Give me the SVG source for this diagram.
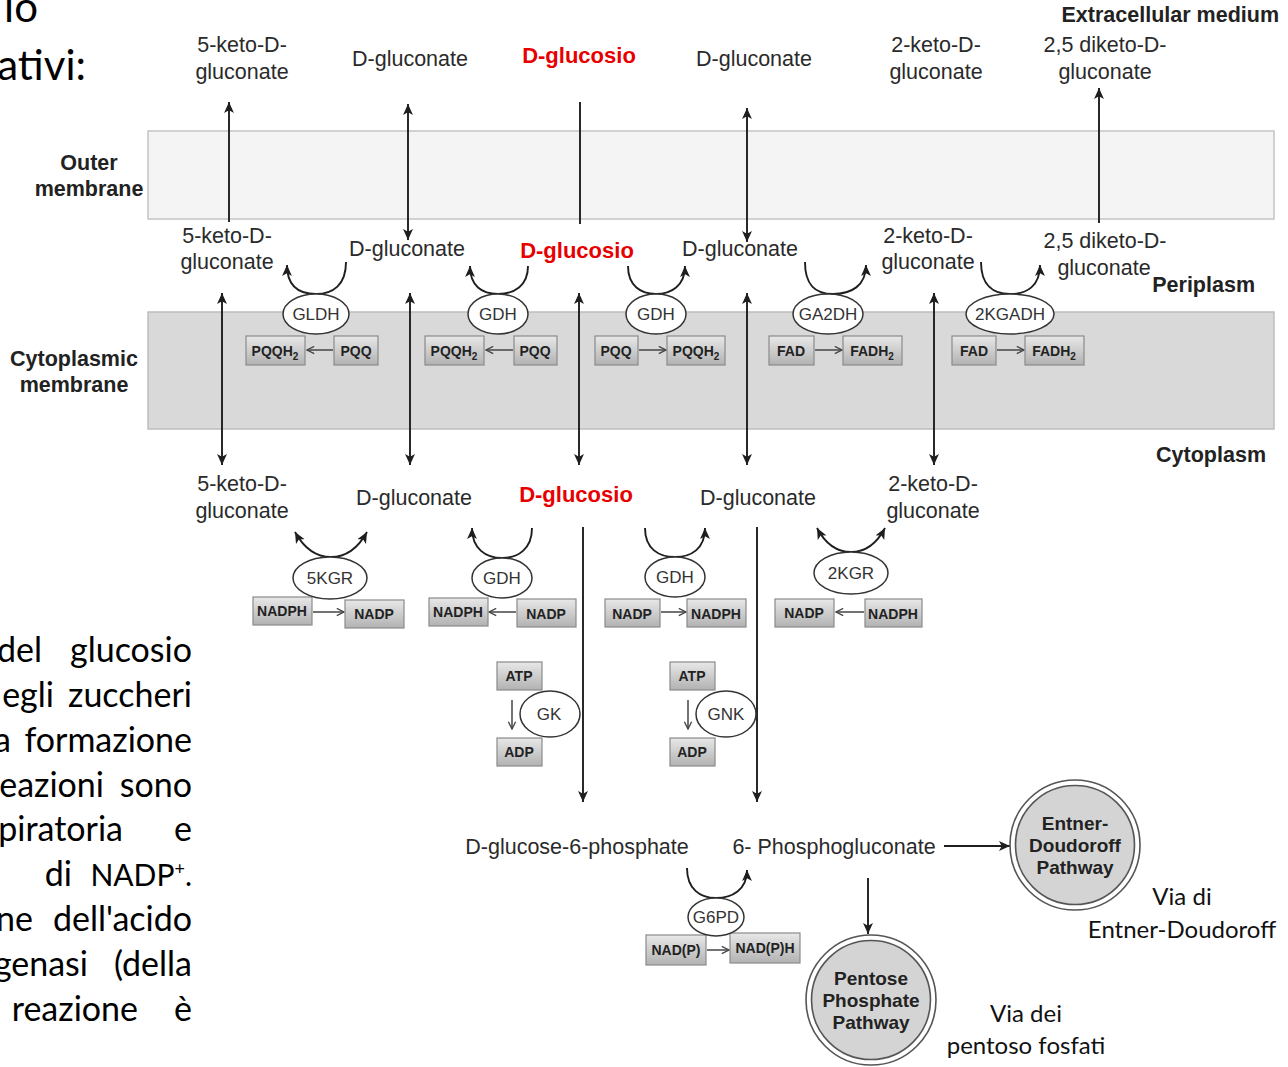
<svg xmlns="http://www.w3.org/2000/svg" width="1288" height="1067" viewBox="0 0 1288 1067">
<defs>
<style>
.lbl{font-family:"Liberation Sans",Arial,sans-serif;font-size:21.5px;fill:#2a2a2a;text-anchor:middle}
.red{font-family:"Liberation Sans",Arial,sans-serif;font-size:22px;font-weight:bold;fill:#e80000;text-anchor:middle}
.zone{font-family:"Liberation Sans",Arial,sans-serif;font-size:21.5px;font-weight:bold;fill:#222}
.enz{font-family:"Liberation Sans",Arial,sans-serif;font-size:17px;fill:#333;text-anchor:middle}
.box{fill:url(#gb);stroke:#8a8a8a;stroke-width:1.2}
.bt{font-family:"Liberation Sans",Arial,sans-serif;font-size:14px;font-weight:bold;fill:#222;text-anchor:middle}
.ell{fill:#fff;stroke:#333;stroke-width:1.5}
.ln{fill:none;stroke:#1e1e1e;stroke-width:1.9}
.sm{fill:none;stroke:#444;stroke-width:1.5}
.pw{font-family:"Liberation Sans",Arial,sans-serif;font-size:19px;font-weight:bold;fill:#222;text-anchor:middle}
.sl{font-family:Lato,"Open Sans",sans-serif;font-size:34px;fill:#000}
.nadp{font-family:Lato,"Open Sans",sans-serif;font-size:30px;fill:#000;text-anchor:end}
.big{font-family:Lato,"Open Sans",sans-serif;font-size:42px;fill:#000;text-anchor:end}
.vn{font-family:Lato,"Open Sans",sans-serif;font-size:24px;fill:#111;text-anchor:middle}
</style>
<linearGradient id="gb" x1="0" y1="0" x2="0" y2="1">
<stop offset="0" stop-color="#e8e8e8"/>
<stop offset="1" stop-color="#b2b2b2"/>
</linearGradient>
<marker id="ah" viewBox="0 0 10 10" refX="10" refY="5" markerWidth="11" markerHeight="11" markerUnits="userSpaceOnUse" orient="auto-start-reverse">
<path d="M0,0.5 L10,5 L0,9.5 L2.5,5 Z" fill="#1e1e1e"/>
</marker>
<marker id="ch" viewBox="0 0 10 10" refX="9" refY="5" markerWidth="9" markerHeight="9" markerUnits="userSpaceOnUse" orient="auto">
<path d="M1,1 L9,5 L1,9" fill="none" stroke="#444" stroke-width="1.5"/>
</marker>
</defs>
<rect width="1288" height="1067" fill="#fff"/>

<!-- slide text -->
<g id="slide-text">
<text class="big" x="38" y="22">io</text>
<text class="big" x="86" y="80">ativi:</text>
<text class="sl" x="42" y="662" text-anchor="end">del</text><text class="sl" x="192" y="662" text-anchor="end">glucosio</text>
<text class="sl" x="54" y="707" text-anchor="end">egli</text><text class="sl" x="192" y="707" text-anchor="end">zuccheri</text>
<text class="sl" x="11" y="752" text-anchor="end">a</text><text class="sl" x="192" y="752" text-anchor="end">formazione</text>
<text class="sl" x="104" y="797" text-anchor="end">eazioni</text><text class="sl" x="192" y="797" text-anchor="end">sono</text>
<text class="sl" x="123" y="841" text-anchor="end">piratoria</text><text class="sl" x="192" y="841" text-anchor="end">e</text>
<text class="sl" x="72" y="886" text-anchor="end">di</text>
<text class="nadp" x="192" y="886">NADP<tspan font-size="18" baseline-shift="super">+</tspan>.</text>
<text class="sl" x="33" y="931" text-anchor="end">ne</text><text class="sl" x="192" y="931" text-anchor="end">dell'acido</text>
<text class="sl" x="88" y="976" text-anchor="end">genasi</text><text class="sl" x="192" y="976" text-anchor="end">(della</text>
<text class="sl" x="138" y="1021" text-anchor="end">reazione</text><text class="sl" x="192" y="1021" text-anchor="end">è</text>
<text class="vn" x="1182" y="905">Via di</text>
<text class="vn" x="1182" y="938">Entner-Doudoroff</text>
<text class="vn" x="1026" y="1022">Via dei</text>
<text class="vn" x="1026" y="1054">pentoso fosfati</text>
</g>

<!-- membranes -->
<g id="membranes">
<rect x="148" y="131" width="1126" height="88" fill="#f4f4f4" stroke="#c4c4c4" stroke-width="1.5"/>
<rect x="148" y="312" width="1126" height="117" fill="#d9d9d9" stroke="#bdbdbd" stroke-width="1.5"/>
<text class="zone" x="1279" y="22" text-anchor="end">Extracellular medium</text>
<text class="zone" x="89" y="170" text-anchor="middle">Outer</text>
<text class="zone" x="89" y="196" text-anchor="middle">membrane</text>
<text class="zone" x="1255" y="292" text-anchor="end">Periplasm</text>
<text class="zone" x="74" y="366" text-anchor="middle">Cytoplasmic</text>
<text class="zone" x="74" y="392" text-anchor="middle">membrane</text>
<text class="zone" x="1266" y="462" text-anchor="end">Cytoplasm</text>
</g>

<!-- connectors -->
<g id="connectors">
<!-- outer membrane -->
<line class="ln" x1="229" y1="222" x2="229" y2="102" marker-end="url(#ah)"/>
<line class="ln" x1="408" y1="104" x2="408" y2="240" marker-start="url(#ah)" marker-end="url(#ah)"/>
<line class="ln" x1="580" y1="102" x2="580" y2="224"/>
<line class="ln" x1="747" y1="108" x2="747" y2="242" marker-start="url(#ah)" marker-end="url(#ah)"/>
<line class="ln" x1="1099" y1="223" x2="1099" y2="88" marker-end="url(#ah)"/>
<!-- cytoplasmic membrane -->
<line class="ln" x1="222" y1="293" x2="222" y2="465" marker-start="url(#ah)" marker-end="url(#ah)"/>
<line class="ln" x1="410" y1="293" x2="410" y2="465" marker-start="url(#ah)" marker-end="url(#ah)"/>
<line class="ln" x1="579" y1="293" x2="579" y2="465" marker-start="url(#ah)" marker-end="url(#ah)"/>
<line class="ln" x1="747" y1="293" x2="747" y2="465" marker-start="url(#ah)" marker-end="url(#ah)"/>
<line class="ln" x1="934" y1="293" x2="934" y2="465" marker-start="url(#ah)" marker-end="url(#ah)"/>
<!-- periplasm enzyme curves -->
<path class="ln" d="M346,262 C346,285 333,294 316,294 C299,294 287,286 287,265" marker-end="url(#ah)"/>
<path class="ln" d="M528,266 C528,286 514,294 498,294 C482,294 470,286 470,266" marker-end="url(#ah)"/>
<path class="ln" d="M628,266 C628,286 641,294 656,294 C671,294 685,286 685,266" marker-end="url(#ah)"/>
<path class="ln" d="M805,262 C805,285 815,294 833,294 C851,294 866,286 866,265" marker-end="url(#ah)"/>
<path class="ln" d="M981,262 C981,285 993,294 1010,294 C1027,294 1040,286 1040,265" marker-end="url(#ah)"/>
<!-- cytoplasm enzyme curves -->
<path class="ln" d="M295,532 C305,550 318,557 331,557 C344,557 357,550 367,532" marker-start="url(#ah)" marker-end="url(#ah)"/>
<path class="ln" d="M532,528 C532,549 518,558 502,558 C486,558 472,549 472,528" marker-end="url(#ah)"/>
<path class="ln" d="M645,528 C645,549 659,557 675,557 C691,557 705,549 705,528" marker-end="url(#ah)"/>
<path class="ln" d="M817,528 C826,545 838,552 851,552 C864,552 876,545 885,528" marker-start="url(#ah)" marker-end="url(#ah)"/>
<!-- long cytoplasm arrows -->
<line class="ln" x1="583" y1="527" x2="583" y2="802" marker-end="url(#ah)"/>
<line class="ln" x1="757" y1="527" x2="757" y2="802" marker-end="url(#ah)"/>
<!-- GK / GNK cofactor arrows -->
<line class="sm" x1="512" y1="700" x2="512" y2="729" marker-end="url(#ch)"/>
<line class="sm" x1="688" y1="700" x2="688" y2="729" marker-end="url(#ch)"/>
<!-- bottom -->
<line class="ln" x1="944" y1="846" x2="1010" y2="846" marker-end="url(#ah)"/>
<line class="ln" x1="868" y1="878" x2="868" y2="934" marker-end="url(#ah)"/>
<path class="ln" d="M687,868 C687,889 700,898 716,898 C732,898 747,890 747,870" marker-end="url(#ah)"/>
<!-- box arrows -->
<line class="sm" x1="333" y1="350" x2="307" y2="350" marker-end="url(#ch)"/>
<line class="sm" x1="513" y1="350" x2="486" y2="350" marker-end="url(#ch)"/>
<line class="sm" x1="639" y1="350" x2="666" y2="350" marker-end="url(#ch)"/>
<line class="sm" x1="815" y1="350" x2="842" y2="350" marker-end="url(#ch)"/>
<line class="sm" x1="997" y1="350" x2="1024" y2="350" marker-end="url(#ch)"/>
<line class="sm" x1="313" y1="612" x2="344" y2="612" marker-end="url(#ch)"/>
<line class="sm" x1="516" y1="612" x2="489" y2="612" marker-end="url(#ch)"/>
<line class="sm" x1="661" y1="612" x2="686" y2="612" marker-end="url(#ch)"/>
<line class="sm" x1="864" y1="612" x2="836" y2="612" marker-end="url(#ch)"/>
<line class="sm" x1="707" y1="950" x2="729" y2="950" marker-end="url(#ch)"/>
</g>

<!-- metabolite labels -->
<g id="extracellular-labels">
<text class="lbl" x="242" y="52">5-keto-D-</text>
<text class="lbl" x="242" y="79">gluconate</text>
<text class="lbl" x="410" y="66">D-gluconate</text>
<text class="red" x="579" y="63">D-glucosio</text>
<text class="lbl" x="754" y="66">D-gluconate</text>
<text class="lbl" x="936" y="52">2-keto-D-</text>
<text class="lbl" x="936" y="79">gluconate</text>
<text class="lbl" x="1105" y="52">2,5 diketo-D-</text>
<text class="lbl" x="1105" y="79">gluconate</text>
</g>
<g id="periplasm-labels">
<text class="lbl" x="227" y="243">5-keto-D-</text>
<text class="lbl" x="227" y="269">gluconate</text>
<text class="lbl" x="407" y="256">D-gluconate</text>
<text class="red" x="577" y="258">D-glucosio</text>
<text class="lbl" x="740" y="256">D-gluconate</text>
<text class="lbl" x="928" y="243">2-keto-D-</text>
<text class="lbl" x="928" y="269">gluconate</text>
<text class="lbl" x="1105" y="248">2,5 diketo-D-</text>
<text class="lbl" x="1104" y="275">gluconate</text>
</g>
<g id="cytoplasm-labels">
<text class="lbl" x="242" y="491">5-keto-D-</text>
<text class="lbl" x="242" y="518">gluconate</text>
<text class="lbl" x="414" y="505">D-gluconate</text>
<text class="red" x="576" y="502">D-glucosio</text>
<text class="lbl" x="758" y="505">D-gluconate</text>
<text class="lbl" x="933" y="491">2-keto-D-</text>
<text class="lbl" x="933" y="518">gluconate</text>
<text class="lbl" x="577" y="854">D-glucose-6-phosphate</text>
<text class="lbl" x="834" y="854">6- Phosphogluconate</text>
</g>

<!-- periplasmic enzymes -->
<g id="GLDH">
<rect class="box" x="246" y="336" width="59" height="29"/><text class="bt" x="275" y="356">PQQH<tspan font-size="10" dy="4">2</tspan></text>
<rect class="box" x="334" y="336" width="44" height="29"/><text class="bt" x="356" y="356">PQQ</text>
<ellipse class="ell" cx="316" cy="314" rx="33" ry="20"/><text class="enz" x="316" y="320">GLDH</text>
</g>
<g id="GDH-1">
<rect class="box" x="425" y="336" width="59" height="29"/><text class="bt" x="454" y="356">PQQH<tspan font-size="10" dy="4">2</tspan></text>
<rect class="box" x="514" y="336" width="43" height="29"/><text class="bt" x="535" y="356">PQQ</text>
<ellipse class="ell" cx="498" cy="314" rx="30" ry="20"/><text class="enz" x="498" y="320">GDH</text>
</g>
<g id="GDH-2">
<rect class="box" x="595" y="336" width="43" height="29"/><text class="bt" x="616" y="356">PQQ</text>
<rect class="box" x="667" y="336" width="58" height="29"/><text class="bt" x="696" y="356">PQQH<tspan font-size="10" dy="4">2</tspan></text>
<ellipse class="ell" cx="656" cy="314" rx="30" ry="20"/><text class="enz" x="656" y="320">GDH</text>
</g>
<g id="GA2DH">
<rect class="box" x="769" y="336" width="45" height="29"/><text class="bt" x="791" y="356">FAD</text>
<rect class="box" x="843" y="336" width="59" height="29"/><text class="bt" x="872" y="356">FADH<tspan font-size="10" dy="4">2</tspan></text>
<ellipse class="ell" cx="828" cy="314" rx="35" ry="20"/><text class="enz" x="828" y="320">GA2DH</text>
</g>
<g id="2KGADH">
<rect class="box" x="952" y="336" width="44" height="29"/><text class="bt" x="974" y="356">FAD</text>
<rect class="box" x="1025" y="336" width="59" height="29"/><text class="bt" x="1054" y="356">FADH<tspan font-size="10" dy="4">2</tspan></text>
<ellipse class="ell" cx="1010" cy="314" rx="44" ry="20"/><text class="enz" x="1010" y="320">2KGADH</text>
</g>

<!-- cytoplasmic enzymes -->
<g id="5KGR">
<rect class="box" x="253" y="597" width="59" height="28"/><text class="bt" x="282" y="616">NADPH</text>
<rect class="box" x="345" y="600" width="59" height="28"/><text class="bt" x="374" y="619">NADP</text>
<ellipse class="ell" cx="330" cy="578" rx="37" ry="21"/><text class="enz" x="330" y="584">5KGR</text>
</g>
<g id="GDH-3">
<rect class="box" x="429" y="598" width="59" height="28"/><text class="bt" x="458" y="617">NADPH</text>
<rect class="box" x="517" y="599" width="59" height="28"/><text class="bt" x="546" y="619">NADP</text>
<ellipse class="ell" cx="502" cy="578" rx="30" ry="20"/><text class="enz" x="502" y="584">GDH</text>
</g>
<g id="GDH-4">
<rect class="box" x="605" y="599" width="55" height="28"/><text class="bt" x="632" y="619">NADP</text>
<rect class="box" x="687" y="599" width="59" height="28"/><text class="bt" x="716" y="619">NADPH</text>
<ellipse class="ell" cx="675" cy="577" rx="30" ry="20"/><text class="enz" x="675" y="583">GDH</text>
</g>
<g id="2KGR">
<rect class="box" x="775" y="599" width="59" height="28"/><text class="bt" x="804" y="618">NADP</text>
<rect class="box" x="865" y="599" width="57" height="28"/><text class="bt" x="893" y="619">NADPH</text>
<ellipse class="ell" cx="851" cy="573" rx="37" ry="21"/><text class="enz" x="851" y="579">2KGR</text>
</g>
<g id="GK">
<rect class="box" x="497" y="662" width="45" height="28"/><text class="bt" x="519" y="681">ATP</text>
<rect class="box" x="497" y="738" width="45" height="28"/><text class="bt" x="519" y="757">ADP</text>
<ellipse class="ell" cx="550" cy="714" rx="30" ry="23"/><text class="enz" x="549" y="720">GK</text>
</g>
<g id="GNK">
<rect class="box" x="670" y="662" width="45" height="28"/><text class="bt" x="692" y="681">ATP</text>
<rect class="box" x="670" y="738" width="45" height="28"/><text class="bt" x="692" y="757">ADP</text>
<ellipse class="ell" cx="726" cy="714" rx="30" ry="23"/><text class="enz" x="726" y="720">GNK</text>
</g>
<g id="G6PD">
<rect class="box" x="646" y="935" width="60" height="30"/><text class="bt" x="676" y="955">NAD(P)</text>
<rect class="box" x="730" y="933" width="70" height="30"/><text class="bt" x="765" y="953">NAD(P)H</text>
<ellipse class="ell" cx="716" cy="917" rx="28" ry="19"/><text class="enz" x="716" y="923">G6PD</text>
</g>

<!-- pathways -->
<g id="ED-pathway">
<circle cx="1075" cy="845" r="65" fill="#fff" stroke="#555" stroke-width="1.6"/>
<circle cx="1075" cy="845" r="59.5" fill="#d4d4d4" stroke="#555" stroke-width="1.6"/>
<text class="pw" x="1075" y="830">Entner-</text>
<text class="pw" x="1075" y="852">Doudoroff</text>
<text class="pw" x="1075" y="874">Pathway</text>
</g>
<g id="PP-pathway">
<circle cx="871" cy="1000" r="65" fill="#fff" stroke="#555" stroke-width="1.6"/>
<circle cx="871" cy="1000" r="59.5" fill="#d4d4d4" stroke="#555" stroke-width="1.6"/>
<text class="pw" x="871" y="985">Pentose</text>
<text class="pw" x="871" y="1007">Phosphate</text>
<text class="pw" x="871" y="1029">Pathway</text>
</g>
</svg>
